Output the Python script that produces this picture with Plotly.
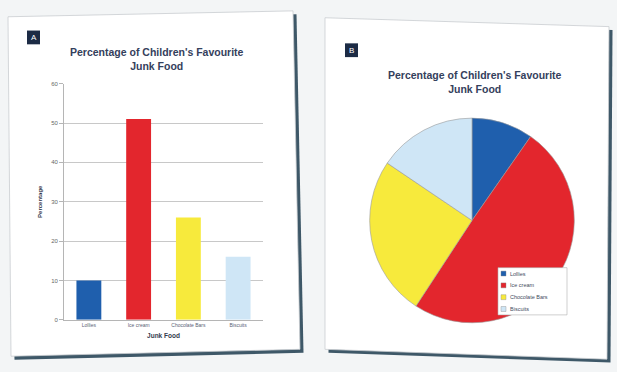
import plotly.graph_objects as go

# ---- data ----
categories = ["Lollies", "Ice cream", "Chocolate Bars", "Biscuits"]
percentages = [10, 51, 26, 16]
colors = ["#1f5fad", "#e3262d", "#f7ea3c", "#cfe6f6"]
y_ticks = [0, 10, 20, 30, 40, 50, 60]
chart_title = "Percentage of Children's Favourite<br>Junk Food"

W, H = 617, 372
def px(x):
    return x / W
def py(y):
    return 1 - y / H

def poly(pts):
    s = "M " + " L ".join(f"{px(x):.5f},{py(y):.5f}" for x, y in pts) + " Z"
    return s

fig = go.Figure()

fig.add_trace(go.Bar(
    x=categories, y=percentages, marker=dict(color=colors, line=dict(width=0)),
    width=0.5, showlegend=False, xaxis="x", yaxis="y",
))

fig.add_trace(go.Pie(
    labels=categories, values=percentages, sort=False, direction="clockwise",
    rotation=0, marker=dict(colors=colors, line=dict(color="#9a9a9a", width=0.6)),
    textinfo="none", hoverinfo="label+percent",
    domain=dict(x=[px(368), px(576)], y=[py(325), py(117)]),
    showlegend=False,
))

shapes = []
annotations = []
# cards: shadow + white face
cardA = [(8, 14), (293, 8), (300, 352), (11, 359)]
cardB = [(325, 15), (609, 24), (607, 362), (325, 352)]
for card in (cardA, cardB):
    shadow = [(x + 3.5, y + 3.5) for x, y in card]
    shapes.append(dict(type="path", xref="paper", yref="paper", path=poly(shadow),
                       fillcolor="#3e5868", line=dict(width=0), layer="below"))
    shapes.append(dict(type="path", xref="paper", yref="paper", path=poly(card),
                       fillcolor="#ffffff", line=dict(color="#c9cdd0", width=0.8), layer="below"))
# badges
for (x0, y0, letter) in [(27, 28, "A"), (345, 41, "B")]:
    shapes.append(dict(type="rect", xref="paper", yref="paper",
                       x0=px(x0), x1=px(x0 + 13), y0=py(y0 + 14), y1=py(y0),
                       fillcolor="#1c2b45", line=dict(width=0)))
    annotations.append(dict(text=letter, x=px(x0 + 6.5), y=py(y0 + 7), xref="paper", yref="paper",
                            xanchor="center", yanchor="middle", showarrow=False,
                            font=dict(size=8, color="white", family="Liberation Sans")))

for (cx, cy) in [(157, 57), (475, 80)]:
    annotations.append(dict(text="<b>" + chart_title + "</b>", x=px(cx), y=py(cy),
                            xref="paper", yref="paper", xanchor="center", yanchor="middle",
                            showarrow=False,
                            font=dict(size=10.5, color="#34405c", family="Liberation Sans")))

# pie legend box (drawn manually to keep it compact)
lx0, ly0, lx1, ly1 = 498, 269, 567, 317
shapes.append(dict(type="rect", xref="paper", yref="paper",
                   x0=px(lx0), x1=px(lx1), y0=py(ly1), y1=py(ly0),
                   fillcolor="white", line=dict(color="#b0b0b0", width=0.6)))
for i, (lab, col) in enumerate(zip(categories, colors)):
    cy = ly0 + 6 + i * 12
    shapes.append(dict(type="rect", xref="paper", yref="paper",
                       x0=px(lx0 + 3), x1=px(lx0 + 8), y0=py(cy + 2.5), y1=py(cy - 2.5),
                       fillcolor=col, line=dict(color="#888888", width=0.4)))
    annotations.append(dict(text=lab, x=px(lx0 + 10), y=py(cy), xref="paper", yref="paper",
                            xanchor="left", yanchor="middle", showarrow=False,
                            font=dict(size=5.5, color="#444c60", family="Liberation Sans")))

fig.update_layout(
    width=W, height=H, margin=dict(l=0, r=0, t=0, b=0),
    paper_bgcolor="#f3f5f6", plot_bgcolor="rgba(0,0,0,0)",
    shapes=shapes, annotations=annotations,
    font=dict(family="Liberation Sans"),
    showlegend=False,
    xaxis=dict(domain=[px(64), px(263)], anchor="y", showgrid=False,
               showline=True, linecolor="#b5b5b5", linewidth=0.8,
               tickfont=dict(size=5, color="#5a6275"),
               title=dict(text="<b>Junk Food</b>", font=dict(size=6.5, color="#333a4d"), standoff=6)),
    yaxis=dict(domain=[py(322), py(82)], anchor="x", range=[0, 60], tickvals=y_ticks,
               showgrid=True, gridcolor="#c8c8c8", gridwidth=0.8,
               showline=True, linecolor="#b5b5b5", linewidth=0.8,
               ticks="outside", ticklen=4, tickcolor="#b5b5b5",
               tickfont=dict(size=6, color="#666666"),
               title=dict(text="<b>Percentage</b>", font=dict(size=6, color="#333a4d"), standoff=8)),
)

fig.write_html("out.html")
